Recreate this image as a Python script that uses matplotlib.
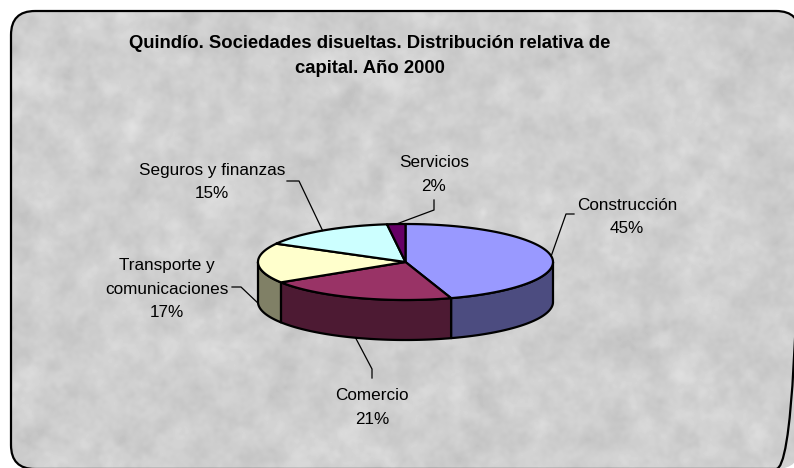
import numpy as np
import matplotlib
matplotlib.use("Agg")
import matplotlib.pyplot as plt
from matplotlib.patches import Polygon, FancyBboxPatch

# ---- data ----
categories = ["Construcción", "Comercio", "Transporte y\ncomunicaciones",
              "Seguros y finanzas", "Servicios"]
values = [45, 21, 17, 15, 2]
pct_labels = ["45%", "21%", "17%", "15%", "2%"]
top_colors = ["#9999FF", "#993366", "#FFFFCC", "#CCFFFF", "#660066"]
side_colors = ["#4C4C80", "#4D1A33", "#808066", "#668080", "#330033"]
title = "Quindío. Sociedades disueltas. Distribución relativa de\ncapital. Año 2000"

# ---- layout (pixels, y down) ----
W, H = 794, 468
cx, cy, rx, ry, depth = 405.5, 262.0, 147.5, 38.0, 40.0
label_xy = [(627, 217), (372, 407.5), (167, 289), (212, 182), (434, 174.5)]
leader_elbow = [(566, 214), (372, 369), (241, 287), (299, 181), (434, 210)]
leader_end = [(574, 214), (372, 378), (232, 287), (287, 181), (434, 200)]

FONT = "Liberation Sans"

fig = plt.figure(figsize=(W / 100, H / 100), dpi=100)
fig.patch.set_facecolor("white")
ax = fig.add_axes([0, 0, 1, 1])
ax.set_xlim(0, W)
ax.set_ylim(H, 0)
ax.axis("off")

# ---- frame with marble-like texture ----
fx0, fy0, fw, fh = 11, 11, 789, 458
frame = FancyBboxPatch((fx0, fy0), fw, fh, boxstyle="round,pad=0,rounding_size=24",
                       facecolor="none", edgecolor="black", linewidth=1.6, zorder=10)
ax.add_patch(frame)

rng = np.random.default_rng(7)
def blurred(sigma):
    n = rng.standard_normal((H, W))
    fy = np.fft.fftfreq(H)[:, None]
    fx = np.fft.fftfreq(W)[None, :]
    g = np.exp(-2 * (np.pi ** 2) * (sigma ** 2) * (fx ** 2 + fy ** 2))
    r = np.real(np.fft.ifft2(np.fft.fft2(n) * g))
    return r / r.std()
tex = 207 + 3.5 * blurred(6) + 1.5 * blurred(2) + 2 * blurred(14)
img = ax.imshow(np.clip(tex, 0, 255), cmap="gray", vmin=0, vmax=255,
                extent=(0, W, H, 0), zorder=0, interpolation="bilinear")
clip = FancyBboxPatch((fx0, fy0), fw, fh, boxstyle="round,pad=0,rounding_size=24",
                      transform=ax.transData, facecolor="none", edgecolor="none")
ax.add_patch(clip)
img.set_clip_path(clip)
ax.set_xlim(0, W)
ax.set_ylim(H, 0)

# ---- 3D pie ----
def pt(theta, dz=0.0):
    t = np.radians(theta)
    return cx + rx * np.sin(t), cy - ry * np.cos(t) + dz

total = float(sum(values))
bounds = np.concatenate([[0.0], np.cumsum(values)]) / total * 360.0

for i in range(len(values)):
    a, b = bounds[i], bounds[i + 1]
    lo, hi = max(a, 90.0), min(b, 270.0)
    if hi > lo:
        th = np.linspace(lo, hi, 80)
        xs, ys = pt(th)
        xb, yb = pt(th[::-1], depth)
        poly = np.column_stack([np.concatenate([xs, xb]), np.concatenate([ys, yb])])
        ax.add_patch(Polygon(poly, closed=True, facecolor=side_colors[i],
                             edgecolor="black", linewidth=1.6, joinstyle="round", zorder=2))

for i in range(len(values)):
    a, b = bounds[i], bounds[i + 1]
    th = np.linspace(a, b, 120)
    xs, ys = pt(th)
    poly = np.column_stack([np.concatenate([[cx], xs]), np.concatenate([[cy], ys])])
    ax.add_patch(Polygon(poly, closed=True, facecolor=top_colors[i],
                         edgecolor="black", linewidth=1.6, joinstyle="round", zorder=3))

# ---- labels and leader lines ----
for i in range(len(values)):
    mid = (bounds[i] + bounds[i + 1]) / 2.0
    dz = depth if 90.0 <= mid <= 270.0 else 0.0
    ax0, ay0 = pt(mid, dz)
    ex, ey = leader_elbow[i]
    gx, gy = leader_end[i]
    ax.plot([ax0, ex, gx], [ay0, ey, gy], color="black", linewidth=0.9, zorder=4)
    lx, ly = label_xy[i]
    ax.text(lx, ly, categories[i] + "\n" + pct_labels[i], ha="center", va="center",
            fontsize=12.3, family=FONT, color="black", linespacing=1.72, zorder=5)

ax.text(370, 56, title, ha="center", va="center", fontsize=13.3, fontweight="bold",
        family=FONT, color="black", linespacing=1.68, zorder=5)

fig.savefig("out.png", dpi=100, facecolor="white")
